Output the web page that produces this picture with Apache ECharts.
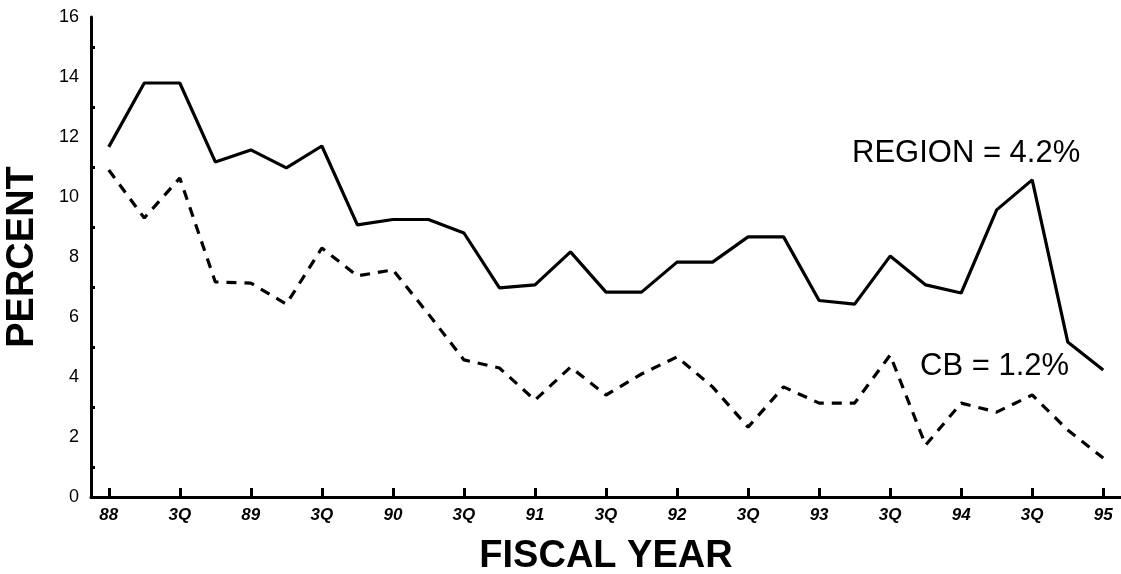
<!DOCTYPE html>
<html>
<head>
<meta charset="utf-8">
<script src="https://cdn.jsdelivr.net/npm/echarts@6/dist/echarts.min.js"></script>
<style>
html,body{margin:0;padding:0;background:#fff;}
#chart{width:1121px;height:574px;}
</style>
</head>
<body>
<div id="chart"></div>
<script>
const quarters = ['88','2Q','3Q','4Q','89','2Q','3Q','4Q','90','2Q','3Q','4Q','91','2Q','3Q','4Q','92','2Q','3Q','4Q','93','2Q','3Q','4Q','94','2Q','3Q','4Q','95'];
const region = [11.67,13.8,13.8,11.17,11.57,10.97,11.7,9.07,9.25,9.25,8.8,6.97,7.07,8.17,6.83,6.83,7.83,7.83,8.67,8.67,6.55,6.43,8.03,7.07,6.8,9.57,10.57,5.17,4.23];
const cb = [10.9,9.3,10.63,7.17,7.13,6.43,8.3,7.37,7.57,6.1,4.57,4.3,3.23,4.33,3.4,4.1,4.67,3.67,2.33,3.67,3.13,3.13,4.73,1.73,3.13,2.83,3.4,2.23,1.3];
const yTicks = [0,2,4,6,8,10,12,14,16];

const chart = echarts.init(document.getElementById('chart'));
chart.setOption({
  animation:false,
  backgroundColor:'#fff',
  grid:{left:91,right:0,top:17,bottom:77,containLabel:false,outerBoundsMode:'none'},
  xAxis:{
    type:'category',
    data:quarters,
    boundaryGap:true,
    name:'FISCAL YEAR',
    nameLocation:'middle',
    nameGap:41,
    nameTextStyle:{fontFamily:'Liberation Sans',fontWeight:'bold',fontSize:38,color:'#000'},
    axisLine:{lineStyle:{color:'#000',width:3}},
    axisTick:{show:true,inside:true,alignWithLabel:true,interval:1,length:9,lineStyle:{color:'#000',width:3}},
    axisLabel:{interval:1,color:'#000',fontFamily:'Liberation Sans',fontWeight:'bold',fontStyle:'italic',fontSize:17,margin:10},
    splitLine:{show:false}
  },
  yAxis:{
    type:'value',
    min:0,max:16,interval:2,
    name:'PERCENT',
    nameLocation:'middle',
    nameGap:49,
    nameRotate:90,
    nameTextStyle:{fontFamily:'Liberation Sans',fontWeight:'bold',fontSize:38,color:'#000'},
    axisLine:{show:true,lineStyle:{color:'#000',width:3}},
    axisTick:{show:false,inside:true},
    minorTick:{show:true,splitNumber:2,length:4,lineStyle:{color:'#000',width:3}},
    axisLabel:{color:'#000',fontFamily:'Liberation Sans',fontSize:18,margin:12,
      formatter:v=>yTicks.includes(v)?String(v):''},
    splitLine:{show:false},
    minorSplitLine:{show:false}
  },
  series:[
    {name:'REGION',type:'line',data:region,symbol:'none',
     lineStyle:{color:'#000',width:3.2,type:'solid'},z:3},
    {name:'CB',type:'line',data:cb,symbol:'none',
     lineStyle:{color:'#000',width:3.2,type:[10,8]},z:2}
  ],
  graphic:[
    {type:'text',left:852,top:138,style:{text:'REGION = 4.2%',font:'31px "Liberation Sans"',fill:'#000'}},
    {type:'text',left:920,top:351,style:{text:'CB = 1.2%',font:'31px "Liberation Sans"',fill:'#000'}}
  ]
});
</script>
</body>
</html>
